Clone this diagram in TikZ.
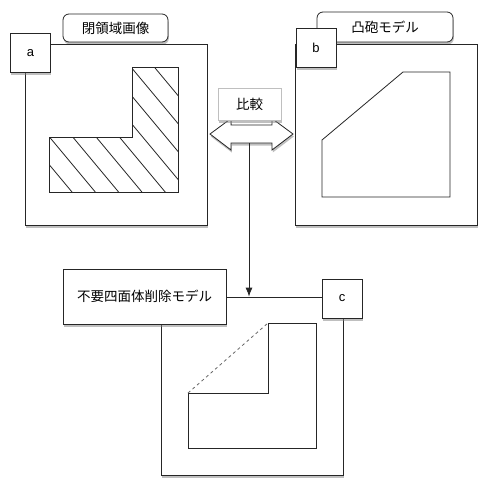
\documentclass[tikz,border=0pt]{standalone}
\usepackage{fontspec}
\setsansfont{Liberation Sans}
\newfontfamily\jpfont{Noto Sans CJK JP}
\usepackage{tikz}
\usetikzlibrary{shadows,arrows.meta}

\tikzset{
  frame/.style={draw=black!85, fill=white,
    drop shadow={shadow xshift=0.8pt, shadow yshift=-2.5pt, opacity=0.5}},
  tab/.style={frame, rounded corners=6pt, inner sep=0pt,
    font=\jpfont\fontsize{13.5}{15}\selectfont},
  tag/.style={frame, inner sep=0pt, minimum width=40pt, minimum height=39pt,
    font=\sffamily\fontsize{13}{15}\selectfont},
  panel/.style={frame, inner sep=0pt, minimum width=182pt, minimum height=181pt},
  conn/.style={draw=black!85, -{Latex[length=9pt,width=7pt]}}
}

\begin{document}
\begin{tikzpicture}[x=1pt,y=-1pt,line width=0.8pt]
\useasboundingbox (0,0) rectangle (478,477);
% titles
\node[tab, minimum width=105pt, minimum height=28pt] (ta) at (115.5,28) {閉領域画像};
\node[tab, minimum width=136pt, minimum height=30pt] (tb) at (385,27) {凸砲モデル};
% panels
\node[panel] (pa) at (116,134.5) {};
\node[panel] (pb) at (386.5,134.5) {};
\node[panel, minimum height=178pt] (pc) at (252,386) {};
% closed region, hatched
\draw[black!85] (49,137) -- (132,137) -- (132,67) -- (178,67) -- (178,192) -- (49,192) -- cycle;
\begin{scope}
  \clip (49,137) -- (132,137) -- (132,67) -- (178,67) -- (178,192) -- (49,192) -- cycle;
  \foreach \k in {-2,...,9}
    \draw[black!85] ({72+23.3*\k},192) -- ++(-110,-132);
\end{scope}
% convex hull
\draw[black!85] (322,140) -- (403,72) -- (450,72) -- (450,197) -- (322,197) -- cycle;
% model without unneeded tetrahedra
\draw[black!85] (188,393) -- (268,393) -- (268,323) -- (316,323) -- (316,448) -- (188,448) -- cycle;
\draw[black!60, dashed] (188,393) -- (268,323);
% tags
\node[tag] (la) at (30.5,53) {a};
\node[tag] (lb) at (316,47.5) {b};
\node[tag] (lc) at (342,298.5) {c};
\node[frame, inner sep=0pt, minimum width=163pt, minimum height=55pt,
  font=\jpfont\fontsize{13.5}{15}\selectfont] (tc) at (144.5,296.5) {不要四面体削除モデル};
% comparison
\draw[frame] (210,134) -- (231,118.5) -- (231,125) -- (272,125) -- (272,118.5)
  -- (293,134) -- (272,150) -- (272,143) -- (231,143) -- (231,150) -- cycle;
\coordinate (dbl) at (249,143);
\node[frame, draw=black!25, inner sep=0pt, minimum width=63pt, minimum height=32pt,
  font=\jpfont\fontsize{13.5}{15}\selectfont] (cmp) at (249.5,104) {比較};
\draw[conn] (dbl) -- (dbl |- pc.north);
\end{tikzpicture}
\end{document}
